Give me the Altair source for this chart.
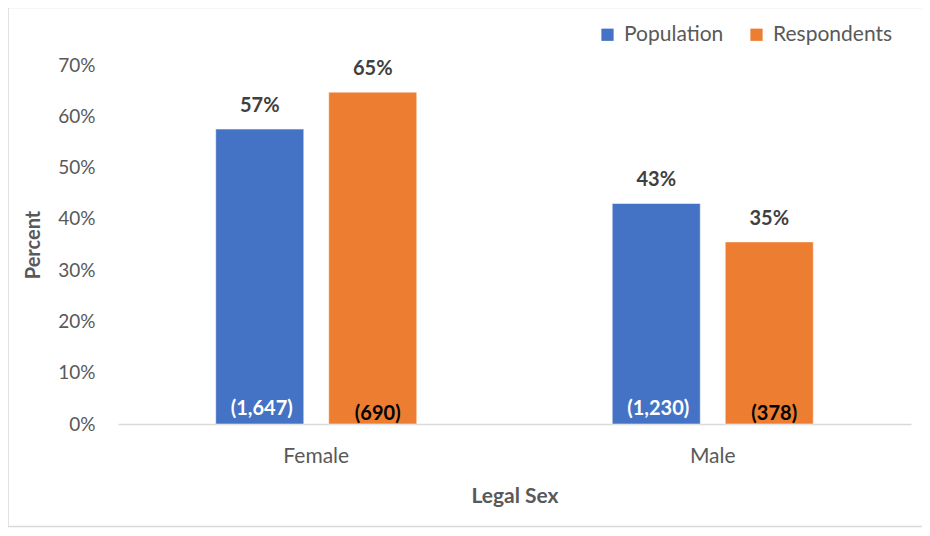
import altair as alt
import pandas as pd

categories = ["Female", "Male"]
series = ["Population", "Respondents"]
population_pct = [0.575, 0.430]
respondents_pct = [0.647, 0.355]
population_n = ["(1,647)", "(1,230)"]
respondents_n = ["(690)", "(378)"]
pct_labels_pop = ["57%", "43%"]
pct_labels_resp = ["65%", "35%"]

rows = []
for i, c in enumerate(categories):
    rows.append({"sex": c, "series": "Population", "pct": population_pct[i],
                 "lab": pct_labels_pop[i], "n": population_n[i]})
    rows.append({"sex": c, "series": "Respondents", "pct": respondents_pct[i],
                 "lab": pct_labels_resp[i], "n": respondents_n[i]})
df = pd.DataFrame(rows)

GRAY = "#595959"

x_enc = alt.X("sex:N", sort=categories,
              scale=alt.Scale(paddingInner=0.493, paddingOuter=0.2465),
              axis=alt.Axis(title="Legal Sex", labelAngle=0, ticks=False,
                            domainColor="#d9d9d9", domainWidth=1.5,
                            labelFontSize=21, labelColor=GRAY, labelPadding=21,
                            titleFontSize=21, titleFontWeight="bold", titleColor=GRAY,
                            titleY=72, titleBaseline="middle"))
xo_enc = alt.XOffset("series:N", sort=series,
                     scale=alt.Scale(paddingInner=0.221, paddingOuter=0))
y_enc = alt.Y("pct:Q", scale=alt.Scale(domain=[0, 0.7]),
              axis=alt.Axis(title="Percent", format=".0%", values=[0, 0.1, 0.2, 0.3, 0.4, 0.5, 0.6, 0.7],
                            domain=False, ticks=False, grid=False,
                            labelFontSize=19, labelColor=GRAY, labelPadding=23,
                            titleFontSize=20, titleFontWeight="bold", titleColor=GRAY,
                            titleX=-85, titleY=179.5, titleBaseline="middle", titleAlign="center"))

base = alt.Chart(df)

bars = base.mark_bar(stroke="white", strokeWidth=0.5).encode(
    x=x_enc, xOffset=xo_enc, y=y_enc,
    color=alt.Color("series:N", sort=series,
                    scale=alt.Scale(domain=series, range=["#4472C4", "#ED7D31"]),
                    legend=alt.Legend(title=None, orient="none", direction="horizontal",
                                      legendX=479, legendY=-41, symbolType="square",
                                      symbolSize=150, symbolStrokeWidth=0,
                                      labelFontSize=21, labelColor=GRAY,
                                      columnPadding=22, labelOffset=6)),
)

top_labels = base.mark_text(fontSize=20, fontWeight="bold", color="#404040",
                            baseline="alphabetic", dy=-17).encode(
    x=x_enc, xOffset=xo_enc, y=y_enc, text="lab:N")

n_pop = base.transform_filter(alt.datum.series == "Population").mark_text(
    fontSize=20, fontWeight="bold", color="white", baseline="alphabetic", dy=-9, dx=2).encode(
    x=x_enc, xOffset=xo_enc, y=alt.datum(0), text="n:N")

n_resp = base.transform_filter(alt.datum.series == "Respondents").mark_text(
    fontSize=20, fontWeight="bold", color="black", baseline="alphabetic", dy=-4, dx=5).encode(
    x=x_enc, xOffset=xo_enc, y=alt.datum(0), text="n:N")

border = alt.Chart(alt.Data(values=[{}])).mark_rect(
    filled=False, stroke="#d9d9d9", strokeWidth=1.5).encode(
    x=alt.value(-110), x2=alt.value(810), y=alt.value(-57.5), y2=alt.value(461.5))

chart = alt.layer(border, bars, top_labels, n_pop, n_resp).properties(
    width=793, height=359,
    padding={"left": 110, "top": 57, "right": 11, "bottom": 104},
    autosize=alt.AutoSizeParams(type="none"),
).configure(font="Lato").configure_view(stroke=None)

chart.save("out.html", embed_options={"renderer": "svg", "actions": False})
